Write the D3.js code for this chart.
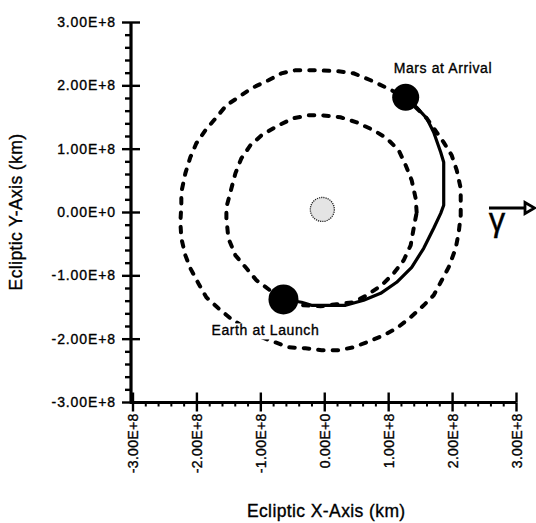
<!DOCTYPE html>
<html><head><meta charset="utf-8">
<script src="https://cdn.jsdelivr.net/npm/d3@7"></script>
<style>
body{margin:0;background:#fff}
svg{display:block}
text{font-family:"Liberation Sans",Arial,Helvetica,sans-serif;fill:#000;stroke:#000;stroke-width:0.35px}
</style>
</head><body>
<svg id="chart" width="536" height="523"></svg>
<script>
// ---- data (units of 1e8 km) ----
const UNIT = 1e8;
const tickValues = [-3, -2, -1, 0, 1, 2, 3];
const tickLabels = ["-3.00E+8", "-2.00E+8", "-1.00E+8", "0.00E+0", "1.00E+8", "2.00E+8", "3.00E+8"];
const xTitle = "Ecliptic X-Axis (km)";
const yTitle = "Ecliptic Y-Axis (km)";

const marsOrbit = [
  [2.135,-0.052],[2.135,0.106],[2.135,0.374],[2.073,0.658],[1.994,0.895],[1.869,1.100],
  [1.603,1.480],[1.274,1.811],[0.960,1.969],[0.725,2.080],[0.459,2.190],[0.224,2.222],
  [-0.121,2.238],[-0.450,2.238],[-0.669,2.190],[-0.873,2.080],[-1.139,1.954],[-1.343,1.811],
  [-1.531,1.685],[-1.687,1.495],[-1.860,1.290],[-2.001,1.085],[-2.095,0.864],[-2.173,0.611],
  [-2.236,0.311],[-2.236,0.106],[-2.251,-0.163],[-2.236,-0.415],[-2.173,-0.684],[-2.095,-0.889],
  [-1.970,-1.125],[-1.845,-1.347],[-1.656,-1.520],[-1.468,-1.678],[-1.061,-1.947],[-0.559,-2.136],
  [-0.293,-2.152],[-0.042,-2.183],[0.224,-2.183],[0.459,-2.136],[0.663,-2.057],[0.929,-1.947],
  [1.133,-1.836],[1.352,-1.662],[1.556,-1.473],[1.712,-1.315],[1.822,-1.110],[1.947,-0.873],
  [2.057,-0.573],[2.104,-0.321]
];
const earthOrbit = [
  [1.446,-0.005],[1.430,0.216],[1.368,0.501],[1.274,0.738],[1.165,0.975],[0.976,1.164],
  [0.773,1.291],[0.506,1.417],[0.255,1.496],[-0.042,1.527],[-0.246,1.527],[-0.481,1.480],
  [-0.716,1.369],[-0.982,1.211],[-1.155,1.053],[-1.296,0.848],[-1.390,0.611],[-1.469,0.311],
  [-1.531,0.074],[-1.531,-0.099],[-1.500,-0.415],[-1.390,-0.684],[-1.217,-0.889],[-1.061,-1.078],
  [-0.638,-1.394],[-0.324,-1.473],[-0.058,-1.489],[0.193,-1.457],[0.459,-1.425],[0.663,-1.315],
  [0.898,-1.157],[1.086,-0.968],[1.243,-0.763],[1.352,-0.526],[1.399,-0.257]
];
const transfer = [
  [-0.638,-1.380],[-0.355,-1.425],[-0.199,-1.473],[0.334,-1.473],[0.616,-1.394],[0.882,-1.284],
  [1.133,-1.110],[1.368,-0.873],[1.556,-0.573],[1.712,-0.257],[1.822,-0.021],[1.869,0.106],
  [1.869,0.785],[1.822,0.943],[1.712,1.259],[1.603,1.480],[1.446,1.653],[1.274,1.811]
];
const sunPos = [-0.03, 0.04];
const earthLaunch = [-0.638, -1.380];
const marsArrival = [1.274, 1.811];
const bodyLabels = ["Earth at Launch", "Mars at Arrival"];

// ---- scales ----
const svg = d3.select("#chart");
const x = d3.scaleLinear().domain([-3 * UNIT, 3 * UNIT]).range([132.5, 516]);
const y = d3.scaleLinear().domain([-3 * UNIT, 3 * UNIT]).range([402, 22]);
const px = d => x(d[0] * UNIT), py = d => y(d[1] * UNIT);

const minor = d3.range(-30, 31, 2).filter(v => v % 10 !== 0).map(v => v / 10 * UNIT);
const major = tickValues.map(v => v * UNIT);

// ---- axes ----
const x0 = x(-3 * UNIT) - 1.5, y0 = y(-3 * UNIT) + 0.5;
function styleAxis(g, w) {
  g.select(".domain").remove();
  g.selectAll(".tick line").attr("stroke", "#000").attr("stroke-width", w);
}
function styleText(sel) {
  sel.attr("font-family", "Liberation Sans, Arial, sans-serif").attr("fill", "#000")
    .attr("stroke", "#000").attr("stroke-width", 0.35);
}
// Y axis
svg.append("g").attr("transform", `translate(${x0},0)`)
  .call(d3.axisLeft(y).tickValues(minor).tickSize(6).tickFormat(""))
  .call(g => styleAxis(g, 2.4));
svg.append("g").attr("transform", `translate(${x0},0)`)
  .call(d3.axisRight(y).tickValues(major).tickSize(9).tickFormat(""))
  .call(g => styleAxis(g, 2.4));
svg.append("g").attr("transform", `translate(${x0},0)`)
  .call(d3.axisLeft(y).tickValues(major).tickSize(9).tickPadding(6)
    .tickFormat((d, i) => tickLabels[i]))
  .call(g => styleAxis(g, 2.4))
  .call(g => styleText(g.selectAll("text").attr("font-size", 14).attr("letter-spacing", "0.9px")));
// X axis
svg.append("g").attr("transform", `translate(0,${y0})`)
  .call(d3.axisBottom(x).tickValues(minor).tickSize(4).tickFormat(""))
  .call(g => styleAxis(g, 2));
svg.append("g").attr("transform", `translate(0,${y0})`)
  .call(d3.axisTop(x).tickValues(major).tickSize(10).tickFormat(""))
  .call(g => styleAxis(g, 2.4));
svg.append("g").attr("transform", `translate(0,${y0})`)
  .call(d3.axisBottom(x).tickValues(major).tickSize(9).tickFormat((d, i) => tickLabels[i]))
  .call(g => styleAxis(g, 2.4))
  .call(g => styleText(g.selectAll("text").attr("transform", "rotate(-90)")
    .attr("x", -11).attr("y", 0).attr("dy", "0.36em").attr("text-anchor", "end")
    .attr("font-size", 14).attr("letter-spacing", "0.3px")));
// axis lines
svg.append("line").attr("x1", x0).attr("x2", x0).attr("y1", y(3 * UNIT)).attr("y2", y0 + 1)
  .attr("stroke", "#000").attr("stroke-width", 3.2);
svg.append("line").attr("x1", x0 - 1).attr("x2", x(3 * UNIT)).attr("y1", y0).attr("y2", y0)
  .attr("stroke", "#000").attr("stroke-width", 3.2);

// titles
svg.append("text").attr("x", (x(-3 * UNIT) + x(3 * UNIT)) / 2 + 2).attr("y", 517)
  .attr("text-anchor", "middle").attr("font-size", 17.5).attr("letter-spacing", "0.4px").text(xTitle);
svg.append("text").attr("transform", `translate(22,${y(0)}) rotate(-90)`)
  .attr("text-anchor", "middle").attr("font-size", 17.5).attr("letter-spacing", "0.4px").text(yTitle);

// ---- orbits ----
const loop = d3.line().x(px).y(py).curve(d3.curveLinearClosed);
const open = d3.line().x(px).y(py).curve(d3.curveLinear);
svg.append("path").attr("d", loop(marsOrbit)).attr("fill", "none").attr("stroke", "#000")
  .attr("stroke-width", 4).attr("stroke-dasharray", "5.5,9").attr("stroke-linecap", "round");
svg.append("path").attr("d", loop(earthOrbit)).attr("fill", "none").attr("stroke", "#000")
  .attr("stroke-width", 4).attr("stroke-dasharray", "5.5,9").attr("stroke-linecap", "round");
svg.append("path").attr("d", open(transfer)).attr("fill", "none").attr("stroke", "#000")
  .attr("stroke-width", 3.2).attr("stroke-linejoin", "round");

// sun
svg.append("circle").attr("cx", px(sunPos)).attr("cy", py(sunPos)).attr("r", 12)
  .attr("fill", "#e4e4e4").attr("stroke", "#222").attr("stroke-width", 1.3).attr("stroke-dasharray", "1.2,1");

// planets
svg.append("circle").attr("cx", px(earthLaunch)).attr("cy", py(earthLaunch)).attr("r", 15).attr("fill", "#000");
svg.append("circle").attr("cx", px(marsArrival)).attr("cy", py(marsArrival)).attr("r", 13.5).attr("fill", "#000");

function label(tx, ty, str) {
  const g = svg.append("g");
  const bg = g.append("rect").attr("fill", "#fff");
  const t = g.append("text").attr("x", tx).attr("y", ty)
    .attr("font-size", 14).attr("letter-spacing", "0.6px").text(str);
  const b = t.node().getBBox();
  bg.attr("x", b.x - 2).attr("y", b.y + 1).attr("width", b.width + 3).attr("height", b.height);
}
label(px(earthLaunch) - 72, py(earthLaunch) + 36, bodyLabels[0]);
label(px(marsArrival) - 12, py(marsArrival) - 24, bodyLabels[1]);

// vernal equinox direction
const ay = y(0) - 4;
svg.append("line").attr("x1", 489).attr("x2", 526).attr("y1", ay).attr("y2", ay)
  .attr("stroke", "#000").attr("stroke-width", 3.2);
svg.append("path").attr("d", `M525,${ay - 5.5} L534.5,${ay} L525,${ay + 5.5} Z`)
  .attr("fill", "#fff").attr("stroke", "#000").attr("stroke-width", 2.8).attr("stroke-linejoin", "miter");
svg.append("text").attr("x", 497).attr("y", ay + 23).attr("text-anchor", "middle")
  .attr("font-size", 33).attr("stroke-width", 0.8).text("γ");
</script>
</body></html>
